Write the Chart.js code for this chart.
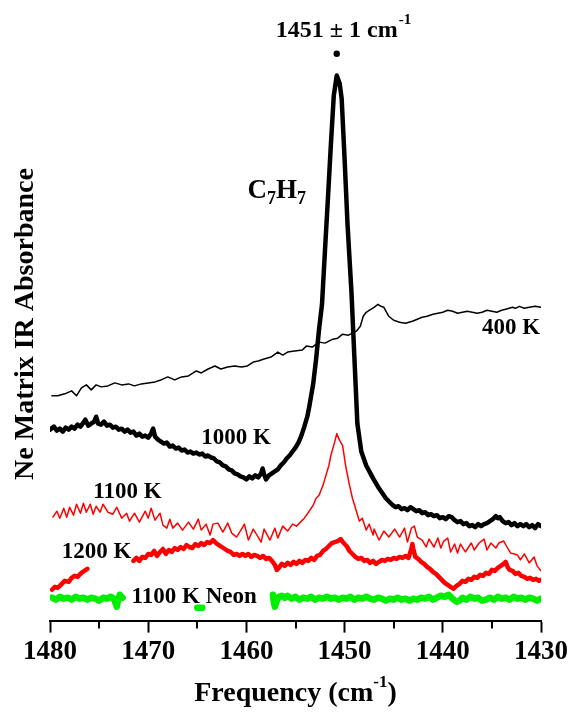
<!DOCTYPE html>
<html>
<head>
<meta charset="utf-8">
<script src="https://cdn.jsdelivr.net/npm/chart.js@4.4.1/dist/chart.umd.min.js"></script>
<style>
  body { margin: 0; background: #fff; }
  canvas { display: block; }
</style>
</head>
<body>
<canvas id="chart" width="571" height="713"></canvas>
<script>
// tick labels of the frequency axis (cm-1), axis runs high -> low
const majorTicks = [1480, 1470, 1460, 1450, 1440, 1430];
const minorTicks = [1475, 1465, 1455, 1445, 1435];

// 400 K trace
const freq400 = [1479.8, 1479.2, 1478.5, 1477.8, 1477.3, 1476.8, 1476.3, 1475.8, 1475.3, 1474.8,
  1474.1, 1473.4, 1472.7, 1472.0, 1471.4, 1470.7, 1470.0, 1469.3, 1468.7, 1468.0,
  1467.3, 1466.6, 1465.9, 1465.1, 1464.6, 1463.9, 1463.2, 1462.6, 1461.9, 1461.2,
  1460.5, 1459.9, 1459.3, 1458.8, 1458.2, 1457.5, 1456.8, 1456.3, 1455.8, 1455.1,
  1454.3, 1453.9, 1453.3, 1452.6, 1452.0, 1451.2, 1450.7, 1450.2, 1449.6, 1448.8,
  1448.4, 1448.1, 1447.8, 1447.5, 1447.0, 1446.6, 1446.3, 1446.0, 1445.5, 1445.0, 1444.4,
  1443.8, 1443.1, 1442.6, 1442.1, 1441.6, 1441.0, 1440.5, 1440.0, 1439.5, 1439.0,
  1438.5, 1438.0, 1437.5, 1437.0, 1436.5, 1436.0, 1435.5, 1435.0, 1434.5, 1434.0,
  1433.6, 1432.9, 1432.6, 1432.2, 1431.7, 1431.2, 1430.6, 1430.0];
const abs400 = [0.226, 0.226, 0.228, 0.231, 0.226, 0.234, 0.237, 0.232, 0.237, 0.235,
  0.236, 0.239, 0.237, 0.238, 0.236, 0.238, 0.239, 0.240, 0.242, 0.245,
  0.242, 0.245, 0.246, 0.251, 0.249, 0.253, 0.256, 0.253, 0.255, 0.256,
  0.255, 0.256, 0.260, 0.261, 0.263, 0.265, 0.270, 0.267, 0.270, 0.271,
  0.272, 0.276, 0.275, 0.280, 0.279, 0.283, 0.284, 0.288, 0.287, 0.291,
  0.296, 0.306, 0.310, 0.312, 0.315, 0.318, 0.316, 0.315, 0.306, 0.302, 0.300,
  0.299, 0.301, 0.303, 0.305, 0.306, 0.308, 0.309, 0.310, 0.312, 0.311,
  0.309, 0.310, 0.311, 0.310, 0.309, 0.310, 0.312, 0.311, 0.310, 0.312,
  0.313, 0.315, 0.314, 0.316, 0.314, 0.315, 0.316, 0.315];

// 1000 K trace (C7H7 band)
const freq1000 = [1480.0, 1479.6, 1479.3, 1479.0, 1478.7, 1478.4, 1478.1, 1477.8, 1477.5, 1477.2,
  1476.9, 1476.6, 1476.4, 1476.1, 1475.8, 1475.5, 1475.3, 1475.1, 1474.8, 1474.5,
  1474.2, 1473.9, 1473.6, 1473.3, 1473.0, 1472.7, 1472.4, 1472.1, 1471.8, 1471.5,
  1471.2, 1470.9, 1470.6, 1470.3, 1470.0, 1469.7, 1469.5, 1469.3, 1469.0, 1468.7,
  1468.4, 1468.1, 1467.8, 1467.5, 1467.2, 1466.9, 1466.6, 1466.3, 1466.0, 1465.7,
  1465.4, 1465.1, 1464.8, 1464.5, 1464.2, 1463.9, 1463.6, 1463.3, 1463.0, 1462.7,
  1462.4, 1462.1, 1461.8, 1461.5, 1461.2, 1460.9, 1460.6, 1460.3, 1460.0, 1459.7,
  1459.4, 1459.1, 1458.8, 1458.5, 1458.35, 1458.2, 1458.0, 1457.7, 1457.4, 1457.1,
  1456.8, 1456.5, 1456.2, 1455.9, 1455.6, 1455.3, 1455.0, 1454.7, 1454.4, 1454.1,
  1453.8, 1453.6, 1453.2, 1452.9, 1452.6, 1452.3, 1452.0, 1451.7, 1451.4, 1451.1,
  1450.8, 1450.5, 1450.3, 1450.0, 1449.7, 1449.3, 1449.0, 1448.7, 1448.3, 1447.8,
  1447.1, 1446.5, 1445.8, 1445.1, 1444.8, 1444.5, 1444.2, 1443.9, 1443.6, 1443.3,
  1443.0, 1442.7, 1442.4, 1442.1, 1441.8, 1441.5, 1441.2, 1440.9, 1440.6, 1440.3,
  1440.0, 1439.7, 1439.4, 1439.1, 1438.8, 1438.5, 1438.2, 1437.9, 1437.6, 1437.3,
  1437.0, 1436.7, 1436.4, 1436.1, 1435.8, 1435.5, 1435.2, 1434.9, 1434.6, 1434.4,
  1434.2, 1433.9, 1433.6, 1433.3, 1433.0, 1432.7, 1432.4, 1432.1, 1431.8, 1431.5,
  1431.2, 1430.9, 1430.6, 1430.3, 1430.0];
const abs1000 = [0.192, 0.195, 0.191, 0.193, 0.190, 0.194, 0.192, 0.195, 0.193, 0.197,
  0.195, 0.199, 0.202, 0.196, 0.198, 0.200, 0.205, 0.198, 0.197, 0.200,
  0.196, 0.197, 0.194, 0.195, 0.192, 0.193, 0.190, 0.192, 0.189, 0.190,
  0.186, 0.188, 0.185, 0.186, 0.184, 0.188, 0.193, 0.185, 0.182, 0.180,
  0.178, 0.179, 0.175, 0.176, 0.173, 0.174, 0.171, 0.172, 0.169, 0.170,
  0.168, 0.169, 0.167, 0.168, 0.165, 0.166, 0.164, 0.163, 0.160, 0.159,
  0.156, 0.155, 0.152, 0.151, 0.148, 0.147, 0.145, 0.144, 0.142, 0.145,
  0.143, 0.146, 0.144, 0.148, 0.153, 0.147, 0.142, 0.146, 0.148, 0.150,
  0.152, 0.156, 0.159, 0.163, 0.166, 0.170, 0.174, 0.179, 0.186, 0.195,
  0.205, 0.215, 0.238, 0.263, 0.293, 0.318, 0.372, 0.424, 0.478, 0.528,
  0.548, 0.540, 0.525, 0.464, 0.398, 0.330, 0.264, 0.198, 0.170, 0.156,
  0.143, 0.133, 0.123, 0.116, 0.114, 0.115, 0.112, 0.113, 0.111, 0.114,
  0.112, 0.110, 0.111, 0.108, 0.109, 0.106, 0.107, 0.105, 0.106, 0.103,
  0.104, 0.102, 0.105, 0.104, 0.101, 0.099, 0.100, 0.097, 0.098, 0.095,
  0.096, 0.094, 0.097, 0.095, 0.097, 0.098, 0.100, 0.102, 0.105, 0.103,
  0.104, 0.100, 0.098, 0.099, 0.096, 0.098, 0.095, 0.097, 0.095, 0.097,
  0.094, 0.096, 0.093, 0.097, 0.095];

// 1100 K trace
const freq1100 = [1479.7, 1479.3, 1479.0, 1478.6, 1478.3, 1478.0, 1477.6, 1477.3, 1476.9, 1476.6,
  1476.3, 1475.9, 1475.6, 1475.3, 1474.9, 1474.6, 1474.1, 1473.6, 1473.2, 1472.7,
  1472.2, 1471.9, 1471.4, 1470.9, 1470.3, 1470.0, 1469.7, 1469.3, 1468.8, 1468.5,
  1468.1, 1467.8, 1467.5, 1467.0, 1466.5, 1465.9, 1465.4, 1464.9, 1464.6, 1464.1,
  1463.7, 1463.4, 1462.9, 1462.4, 1461.9, 1461.5, 1461.0, 1460.5, 1460.2, 1459.8,
  1459.3, 1458.8, 1458.5, 1458.2, 1457.6, 1457.1, 1456.8, 1456.3, 1455.8, 1455.3,
  1454.9, 1454.6, 1454.1, 1453.6, 1453.2, 1452.9, 1452.6, 1452.2, 1451.9, 1451.6,
  1451.4, 1451.0, 1450.8, 1450.5, 1450.2, 1449.9, 1449.5, 1449.2, 1448.8, 1448.5,
  1448.2, 1447.8, 1447.5, 1447.1, 1447.0, 1446.5, 1446.0, 1445.5, 1444.9, 1444.4,
  1443.9, 1443.6, 1443.2, 1442.9, 1442.6, 1442.1, 1441.7, 1441.4, 1440.9, 1440.5,
  1440.2, 1439.9, 1439.5, 1439.2, 1438.8, 1438.5, 1438.2, 1437.7, 1437.1, 1436.8,
  1436.3, 1435.8, 1435.5, 1435.1, 1434.6, 1434.3, 1433.8, 1433.4, 1433.1, 1432.7,
  1432.4, 1432.1, 1431.7, 1431.2, 1430.7, 1430.4, 1430.0];
const abs1100 = [0.104, 0.110, 0.103, 0.113, 0.104, 0.114, 0.106, 0.117, 0.108, 0.118,
  0.109, 0.117, 0.107, 0.115, 0.109, 0.117, 0.109, 0.107, 0.114, 0.103,
  0.108, 0.100, 0.108, 0.099, 0.110, 0.103, 0.113, 0.101, 0.108, 0.096,
  0.093, 0.102, 0.093, 0.098, 0.091, 0.099, 0.092, 0.102, 0.091, 0.097,
  0.086, 0.097, 0.098, 0.089, 0.098, 0.088, 0.084, 0.092, 0.097, 0.081,
  0.092, 0.084, 0.079, 0.092, 0.081, 0.093, 0.083, 0.095, 0.090, 0.097,
  0.095, 0.098, 0.103, 0.110, 0.116, 0.123, 0.126, 0.136, 0.146, 0.156,
  0.166, 0.180, 0.188, 0.181, 0.176, 0.156, 0.136, 0.123, 0.110, 0.100,
  0.103, 0.091, 0.097, 0.086, 0.092, 0.081, 0.090, 0.084, 0.092, 0.084,
  0.093, 0.079, 0.093, 0.095, 0.084, 0.081, 0.074, 0.082, 0.074, 0.083,
  0.073, 0.080, 0.083, 0.069, 0.077, 0.068, 0.077, 0.069, 0.078, 0.071,
  0.078, 0.082, 0.071, 0.078, 0.073, 0.078, 0.080, 0.073, 0.068, 0.067,
  0.066, 0.061, 0.067, 0.058, 0.064, 0.055, 0.050];

// 1200 K trace (break where the label sits)
const freq1200 = [1479.8, 1479.5, 1479.2, 1478.8, 1478.5, 1478.1, 1477.8, 1477.5, 1477.2, 1476.8,
  1476.5, 1476.2, 1474.0,
  1471.5, 1471.2, 1470.9, 1470.6, 1470.3, 1470.0, 1469.7, 1469.4, 1469.1, 1468.8,
  1468.5, 1468.2, 1467.9, 1467.6, 1467.3, 1467.0, 1466.7, 1466.4, 1466.1, 1465.8,
  1465.5, 1465.2, 1464.9, 1464.6, 1464.3, 1464.0, 1463.7, 1463.4, 1463.1, 1462.8,
  1462.5, 1462.2, 1461.9, 1461.6, 1461.3, 1461.0, 1460.7, 1460.4, 1460.1, 1459.8,
  1459.5, 1459.2, 1458.9, 1458.6, 1458.3, 1458.0, 1457.7, 1457.4, 1457.1, 1456.9,
  1456.7, 1456.4, 1456.1, 1455.8, 1455.5, 1455.2, 1454.9, 1454.6, 1454.3, 1454.0,
  1453.7, 1453.4, 1453.1, 1452.8, 1452.5, 1452.2, 1451.9, 1451.6, 1451.3, 1451.0,
  1450.7, 1450.4, 1450.1, 1449.8, 1449.5, 1449.2, 1448.9, 1448.6, 1448.3, 1448.0,
  1447.7, 1447.4, 1447.1, 1446.8, 1446.5, 1446.2, 1445.9, 1445.6, 1445.3, 1445.0,
  1444.7, 1444.4, 1444.1, 1443.8, 1443.5, 1443.2, 1443.1, 1443.0, 1442.8, 1442.5,
  1442.2, 1441.9, 1441.6, 1441.3, 1441.0, 1440.7, 1440.4, 1440.1, 1439.8, 1439.5,
  1439.2, 1438.9, 1438.6, 1438.3, 1438.0, 1437.7, 1437.4, 1437.1, 1436.8, 1436.5,
  1436.2, 1435.9, 1435.6, 1435.3, 1435.0, 1434.7, 1434.4, 1434.1, 1433.8, 1433.6,
  1433.4, 1433.2, 1432.9, 1432.6, 1432.3, 1432.0, 1431.7, 1431.4, 1431.1, 1430.8,
  1430.5, 1430.2, 1430.0];
const abs1200 = [0.031, 0.034, 0.033, 0.037, 0.040, 0.039, 0.043, 0.045, 0.044, 0.048,
  0.050, 0.052, null,
  0.060, 0.063, 0.060, 0.064, 0.063, 0.067, 0.066, 0.070, 0.065, 0.069,
  0.072, 0.067, 0.071, 0.069, 0.073, 0.071, 0.074, 0.072, 0.076, 0.074,
  0.073, 0.077, 0.075, 0.078, 0.076, 0.079, 0.078, 0.081, 0.078, 0.076,
  0.074, 0.072, 0.070, 0.069, 0.066, 0.067, 0.065, 0.067, 0.065, 0.067,
  0.064, 0.066, 0.065, 0.063, 0.065, 0.062, 0.063, 0.060, 0.056, 0.051,
  0.053, 0.057, 0.055, 0.058, 0.056, 0.059, 0.057, 0.060, 0.058, 0.061,
  0.060, 0.063, 0.061, 0.065, 0.066, 0.070, 0.072, 0.075, 0.078, 0.079,
  0.080, 0.082, 0.078, 0.075, 0.070, 0.067, 0.064, 0.062, 0.063, 0.060,
  0.061, 0.058, 0.060, 0.057, 0.059, 0.061, 0.060, 0.062, 0.061, 0.063,
  0.062, 0.064, 0.063, 0.065, 0.063, 0.072, 0.077, 0.072, 0.064, 0.062,
  0.059, 0.057, 0.054, 0.052, 0.049, 0.047, 0.044, 0.041, 0.038, 0.036,
  0.034, 0.032, 0.035, 0.037, 0.040, 0.039, 0.042, 0.041, 0.044, 0.043,
  0.046, 0.045, 0.048, 0.047, 0.051, 0.050, 0.053, 0.055, 0.057, 0.059,
  0.054, 0.051, 0.050, 0.047, 0.048, 0.045, 0.044, 0.042, 0.043, 0.041,
  0.042, 0.040, 0.041];

// 1100 K Neon trace (break where the label sits)
const freqNeon = [1479.8, 1479.4, 1479.0, 1478.6, 1478.2, 1477.8, 1477.4, 1477.0, 1476.6, 1476.2,
  1475.8, 1475.4, 1475.0, 1474.6, 1474.2, 1473.8, 1473.5, 1473.3, 1473.2, 1473.1,
  1472.9, 1472.6, 1469.0,
  1465.0, 1464.5, 1461.0,
  1457.3, 1457.2, 1457.1, 1456.9, 1456.7, 1456.4, 1456.1, 1455.8, 1455.4, 1455.0,
  1454.6, 1454.2, 1453.8, 1453.4, 1453.0, 1452.6, 1452.2, 1451.8, 1451.4, 1451.0,
  1450.6, 1450.2, 1449.8, 1449.4, 1449.0, 1448.6, 1448.2, 1447.8, 1447.4, 1447.0,
  1446.6, 1446.2, 1445.8, 1445.4, 1445.0, 1444.6, 1444.2, 1443.8, 1443.4, 1443.0,
  1442.6, 1442.2, 1441.8, 1441.4, 1441.0, 1440.6, 1440.2, 1439.8, 1439.4, 1439.0,
  1438.6, 1438.3, 1438.0, 1437.6, 1437.2, 1436.8, 1436.4, 1436.0, 1435.6, 1435.2,
  1434.8, 1434.4, 1434.0, 1433.6, 1433.2, 1432.8, 1432.4, 1432.0, 1431.6, 1431.2,
  1430.8, 1430.4, 1430.0];
const absNeon = [0.023, 0.021, 0.024, 0.022, 0.023, 0.021, 0.024, 0.022, 0.023, 0.021,
  0.023, 0.022, 0.020, 0.023, 0.022, 0.024, 0.022, 0.017, 0.014, 0.019,
  0.026, 0.023, null,
  0.013, 0.013, null,
  0.026, 0.018, 0.014, 0.020, 0.024, 0.025, 0.023, 0.025, 0.022, 0.024,
  0.021, 0.023, 0.022, 0.024, 0.021, 0.023, 0.022, 0.024, 0.022, 0.023,
  0.021, 0.023, 0.022, 0.024, 0.021, 0.023, 0.022, 0.024, 0.022, 0.021,
  0.023, 0.022, 0.020, 0.022, 0.021, 0.023, 0.021, 0.022, 0.020, 0.022,
  0.021, 0.023, 0.022, 0.024, 0.021, 0.023, 0.025, 0.024, 0.026, 0.022,
  0.019, 0.020, 0.023, 0.021, 0.024, 0.022, 0.023, 0.020, 0.021, 0.023,
  0.021, 0.024, 0.022, 0.023, 0.021, 0.024, 0.022, 0.023, 0.021, 0.023,
  0.022, 0.020, 0.022];

const serif = 'Liberation Serif';

const toPoints = (freq, abs) => freq.map((f, i) => ({ x: f, y: abs[i] }));

const series = [
  { data: toPoints(freqNeon, absNeon), borderColor: '#00ee00', borderWidth: 6.5 },
  { data: toPoints(freq1200, abs1200), borderColor: '#ff0000', borderWidth: 4.5 },
  { data: toPoints(freq1100, abs1100), borderColor: '#ff0000', borderWidth: 1.5 },
  { data: toPoints(freq400, abs400), borderColor: '#000000', borderWidth: 1.5 },
  { data: toPoints(freq1000, abs1000), borderColor: '#000000', borderWidth: 4.5 }
];

const labelsPlugin = {
  id: 'labels',
  afterDraw(chart) {
    const { ctx, scales: { x, y }, chartArea } = chart;
    ctx.save();
    ctx.fillStyle = '#000';
    ctx.strokeStyle = '#000';

    // minor ticks
    ctx.lineWidth = 2;
    minorTicks.forEach(t => {
      const px = Math.round(x.getPixelForValue(t));
      ctx.beginPath();
      ctx.moveTo(px, chartArea.bottom);
      ctx.lineTo(px, chartArea.bottom + 8);
      ctx.stroke();
    });

    const font = (size) => `bold ${size}px "${serif}"`;
    const put = (text, f, a, size, align) => {
      ctx.font = font(size);
      ctx.textAlign = align || 'left';
      ctx.textBaseline = 'middle';
      ctx.fillText(text, x.getPixelForValue(f), y.getPixelForValue(a));
    };

    put('400 K', 1436.0, 0.294, 23);
    put('1000 K', 1464.6, 0.184, 23);
    put('1100 K', 1475.6, 0.129, 23);
    put('1200 K', 1478.8, 0.069, 23);
    put('1100 K Neon', 1471.7, 0.024, 23);

    // C7H7 with subscripts
    let cx = x.getPixelForValue(1459.9);
    const cy = y.getPixelForValue(0.432);
    ctx.textAlign = 'left';
    ctx.textBaseline = 'middle';
    [['C', 27, 0], ['7', 18, 8], ['H', 27, 0], ['7', 18, 8]].forEach(([t, s, dy]) => {
      ctx.font = font(s);
      ctx.fillText(t, cx, cy + dy);
      cx += ctx.measureText(t).width;
    });

    // peak marker and its label
    const px = x.getPixelForValue(1450.8);
    ctx.beginPath();
    ctx.arc(px, y.getPixelForValue(0.570), 3.2, 0, Math.PI * 2);
    ctx.fill();
    ctx.font = font(24);
    ctx.textAlign = 'center';
    ctx.textBaseline = 'middle';
    const main = '1451 \u00b1 1 cm';
    const ty = y.getPixelForValue(0.593);
    ctx.fillText(main, px, ty);
    const w = ctx.measureText(main).width;
    ctx.font = font(15);
    ctx.textAlign = 'left';
    ctx.fillText('-1', px + w / 2 + 1, ty - 11);

    // axis titles
    ctx.font = font(28);
    ctx.textAlign = 'left';
    ctx.textBaseline = 'alphabetic';
    const t1 = 'Frequency (cm';
    const t1w = ctx.measureText(t1).width;
    ctx.font = font(17);
    const supw = ctx.measureText('-1').width;
    ctx.font = font(28);
    const t2w = ctx.measureText(')').width;
    const total = t1w + supw + t2w;
    const tx = (chartArea.left + chartArea.right) / 2 - total / 2;
    const base = 701;
    ctx.fillText(t1, tx, base);
    ctx.font = font(17);
    ctx.fillText('-1', tx + t1w, base - 14);
    ctx.font = font(28);
    ctx.fillText(')', tx + t1w + supw, base);

    ctx.translate(26, 324);
    ctx.rotate(-Math.PI / 2);
    ctx.textAlign = 'center';
    ctx.textBaseline = 'middle';
    ctx.fillText('Ne Matrix IR Absorbance', 0, 0);
    ctx.restore();
  }
};

new Chart(document.getElementById('chart'), {
  type: 'line',
  data: {
    datasets: series.map(s => ({
      ...s,
      pointRadius: 0,
      tension: 0,
      fill: false,
      spanGaps: false,
      borderJoinStyle: 'round',
      borderCapStyle: 'round'
    }))
  },
  options: {
    responsive: false,
    animation: false,
    layout: { padding: { left: 50, right: 29, top: 0, bottom: 42 } },
    plugins: { legend: { display: false }, tooltip: { enabled: false } },
    scales: {
      x: {
        type: 'linear',
        reverse: true,
        min: 1430,
        max: 1480,
        border: { display: true, color: '#000', width: 2 },
        grid: { display: true, drawOnChartArea: false, drawTicks: true, tickLength: 12, tickWidth: 2, tickColor: '#000' },
        ticks: {
          stepSize: 10,
          autoSkip: false,
          maxRotation: 0,
          padding: 3,
          color: '#000',
          font: { family: serif, size: 27, weight: 'bold' },
          callback: v => majorTicks.includes(v) ? String(v) : ''
        }
      },
      y: {
        display: false,
        min: 0,
        max: 0.624
      }
    }
  },
  plugins: [labelsPlugin]
});
</script>
</body>
</html>
